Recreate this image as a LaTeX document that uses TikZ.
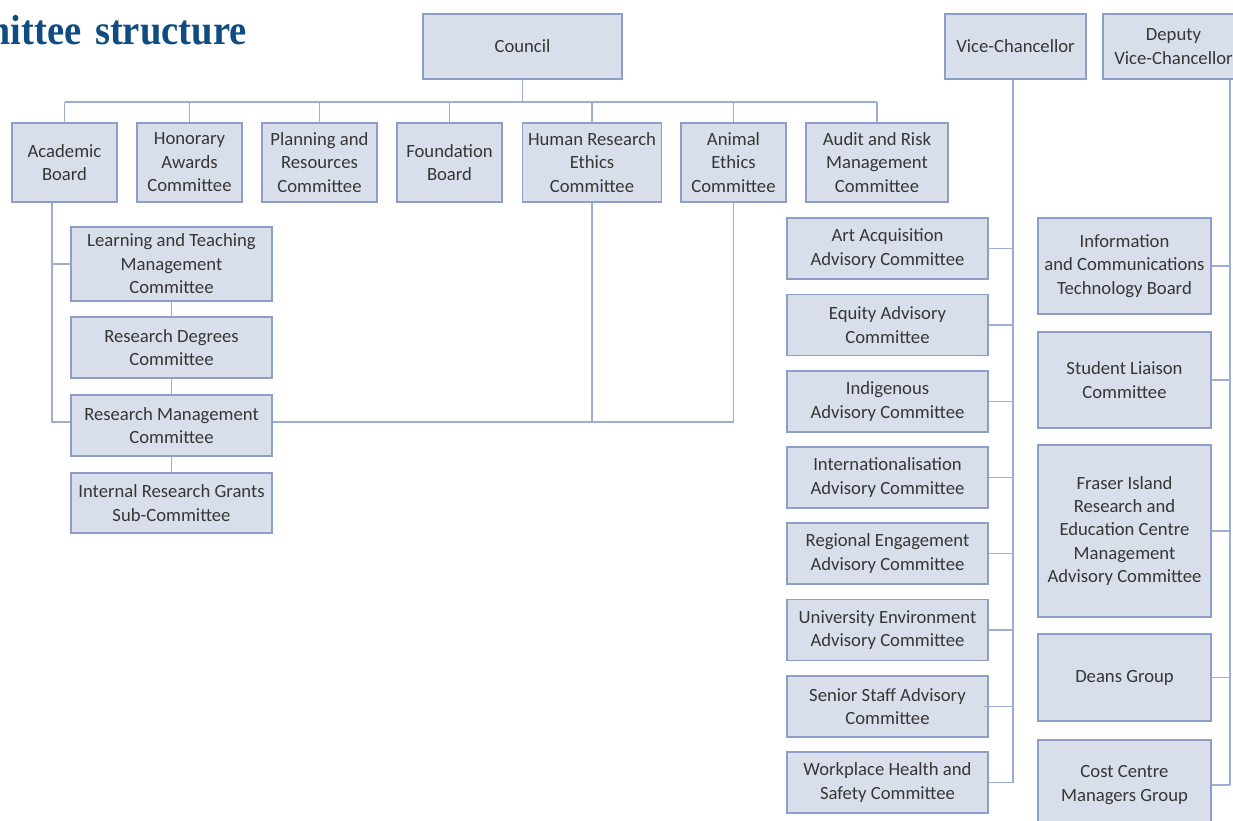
\documentclass[tikz,border=0pt]{standalone}
\usepackage{fontspec}
\usepackage{graphicx}
\setmainfont{Carlito}
\newfontfamily\titlefont{Liberation Serif}
\usetikzlibrary{backgrounds}
\definecolor{boxfill}{HTML}{D9DEEB}
\definecolor{boxline}{HTML}{8D9EC8}
\definecolor{connline}{HTML}{9DADD3}
\definecolor{txt}{HTML}{363636}
\definecolor{titleblue}{HTML}{0F4C81}
\begin{document}
\begin{tikzpicture}[x=0.75pt,y=-0.75pt,
  box/.style={draw=boxline,fill=boxfill,line width=1.1pt,inner sep=0pt,align=center,text=txt,font=\fontsize{14}{17.6}\selectfont},
  wh/.style 2 args={minimum width=#1*0.75pt,minimum height=#2*0.75pt},
  conn/.style={draw=connline,line width=1pt}]
\useasboundingbox (0,0) rectangle (1233,821);
% title
\node[anchor=base east,inner sep=0pt,text=titleblue,font=\titlefont\bfseries\fontsize{31.5}{33}\selectfont] (title) at (247,44) {\scalebox{0.92}[1]{Committee\hspace{11pt}structure}};
% top
\node[box,wh={199}{65}] (council) at (522.5,46.5) {Council};
\node[box,wh={141}{65}] (vc) at (1015.5,46.5) {Vice-Chancellor};
\node[box,wh={141}{65}] (dvc) at (1173.5,46.5) {Deputy\\Vice-Chancellor};
% council row
\node[box,wh={105}{79}] (acad) at (64.5,162.5) {Academic\\Board};
\node[box,wh={105}{79}] (hon) at (189.5,162.5) {Honorary\\Awards\\Committee};
\node[box,wh={115}{79}] (plan) at (319.5,162.5) {Planning and\\Resources\\Committee};
\node[box,wh={105}{79}] (found) at (449.5,162.5) {Foundation\\Board};
\node[box,wh={139}{79}] (human) at (592,162.5) {Human Research\\Ethics\\Committee};
\node[box,wh={105}{79}] (animal) at (733.5,162.5) {Animal\\Ethics\\Committee};
\node[box,wh={142}{79}] (audit) at (877,162.5) {Audit and Risk\\Management\\Committee};
% academic board column
\node[box,wh={201}{74}] (learn) at (171.5,264) {Learning and Teaching\\Management\\Committee};
\node[box,wh={201}{61}] (rdeg) at (171.5,347.5) {Research Degrees\\Committee};
\node[box,wh={201}{61}] (rmgmt) at (171.5,425.5) {Research Management\\Committee};
\node[box,wh={201}{60}] (irg) at (171.5,503) {Internal Research Grants\\Sub-Committee};
% vice-chancellor column
\node[box,wh={201}{61}] (art) at (887.5,248.5) {Art Acquisition\\Advisory Committee};
\node[box,wh={201}{61}] (equity) at (887.5,325) {Equity Advisory\\Committee};
\node[box,wh={201}{61}] (indig) at (887.5,401.5) {Indigenous\\Advisory Committee};
\node[box,wh={201}{61}] (intl) at (887.5,477.5) {Internationalisation\\Advisory Committee};
\node[box,wh={201}{61}] (reg) at (887.5,553.5) {Regional Engagement\\Advisory Committee};
\node[box,wh={201}{61}] (uni) at (887.5,630) {University Environment\\Advisory Committee};
\node[box,wh={201}{61}] (senior) at (887.5,706.5) {Senior Staff Advisory\\Committee};
\node[box,wh={201}{61}] (work) at (887.5,782.5) {Workplace Health and\\Safety Committee};
% deputy vice-chancellor column
\node[box,wh={173}{96}] (ict) at (1124.5,266) {Information\\and Communications\\Technology Board};
\node[box,wh={173}{96}] (student) at (1124.5,380) {Student Liaison\\Committee};
\node[box,wh={173}{172}] (fraser) at (1124.5,531) {Fraser Island\\Research and\\Education Centre\\Management\\Advisory Committee};
\node[box,wh={173}{87}] (deans) at (1124.5,677.5) {Deans Group};
\node[box,wh={173}{90}] (cost) at (1124.5,785) {Cost Centre\\Managers Group};
% connectors
\coordinate (bus) at (0,102);
\coordinate (aline) at (52,0);
\coordinate (rmy) at (0,422);
\coordinate (vcx) at (1013,0);
\coordinate (dvx) at (1230,0);
\begin{pgfonlayer}{background}
\fill[white] (0,0) rectangle (1233,821);
\draw[conn] (council.south) -- (council.south |- bus);
\draw[conn] (acad.north |- bus) -- (audit.north |- bus);
\foreach \n in {acad,hon,plan,found,human,animal,audit}
  \draw[conn] (\n.north |- bus) -- (\n.north);
\draw[conn] (acad.south -| aline) |- (animal.south |- rmy) -- (animal.south);
\draw[conn] (human.south) -- (human.south |- rmy);
\draw[conn] (aline |- learn.west) -- (learn.west);
\draw[conn] (learn.south) -- (rdeg.north);
\draw[conn] (rdeg.south) -- (rmgmt.north);
\draw[conn] (rmgmt.south) -- (irg.north);
\draw[conn] (vc.south -| vcx) -- (vcx |- work.east);
\foreach \n in {art,equity,indig,intl,reg,uni,work}
  \draw[conn] (\n.east) -- (\n.east -| vcx);
\draw[conn] (dvc.south -| dvx) -- (dvx |- cost.east);
\foreach \n in {ict,student,fraser,deans,cost}
  \draw[conn] (\n.east) -- (\n.east -| dvx);
\end{pgfonlayer}
\draw[conn] ([xshift=-3.75pt]senior.east) -- (senior.east -| vcx);
\end{tikzpicture}
\end{document}
